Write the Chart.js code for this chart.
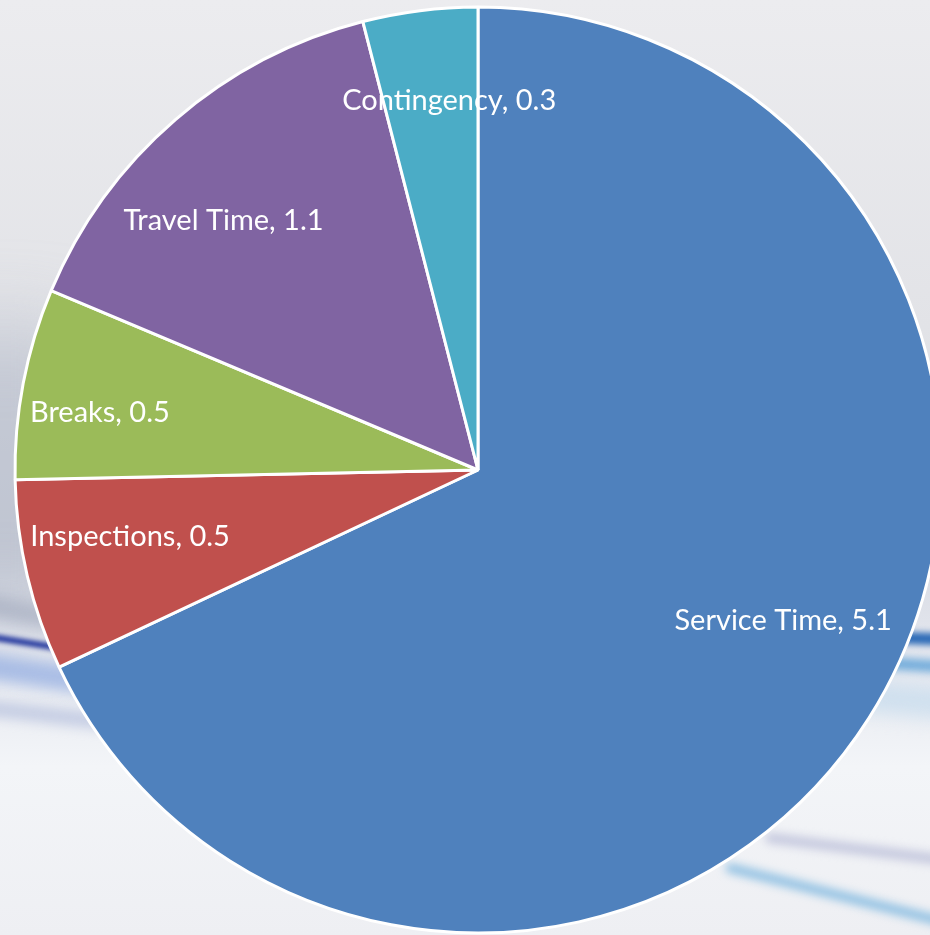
<!DOCTYPE html>
<html>
<head>
<meta charset="utf-8">
<script src="https://cdn.jsdelivr.net/npm/chart.js@4"></script>
<style>
    html, body { margin: 0; padding: 0; background: #ebebee; }
    #wrap { position: relative; width: 930px; height: 935px; }
</style>
</head>
<body>
<div id="wrap"><canvas id="timeBreakdownChart"></canvas></div>
<script>
const categories = ["Service Time", "Inspections", "Breaks", "Travel Time", "Contingency"];
const hours = [5.1, 0.5, 0.5, 1.1, 0.3];
const sliceColors = ["#4f81bd", "#c0504d", "#9bbb59", "#8064a2", "#4bacc6"];

// where each data label sits inside its slice: share of the slice's sweep, share of the radius
const labelSweep = [0.475, 0.6, 0.41, 0.41, 0.69];
const labelDepth = [0.735, 0.765, 0.826, 0.77, 0.8];

function streak(ctx, x1, y1, x2, y2, width, color, blur) {
    ctx.save();
    ctx.filter = "blur(" + blur + "px)";
    ctx.strokeStyle = color;
    ctx.lineWidth = width;
    ctx.lineCap = "round";
    ctx.beginPath();
    ctx.moveTo(x1, y1);
    ctx.lineTo(x2, y2);
    ctx.stroke();
    ctx.restore();
}

const backdrop = {
    id: "backdrop",
    beforeDraw: function (chart) {
        const ctx = chart.ctx;
        const w = chart.width;
        const h = chart.height;
        ctx.save();
        const g = ctx.createLinearGradient(0, 0, 0, h);
        g.addColorStop(0, "#ececef");
        g.addColorStop(0.35, "#e2e3e7");
        g.addColorStop(0.58, "#d6d9e0");
        g.addColorStop(0.68, "#e2e5ed");
        g.addColorStop(0.82, "#f3f5f8");
        g.addColorStop(1, "#eeeff3");
        ctx.fillStyle = g;
        ctx.fillRect(0, 0, w, h);

        // greyish shade down the left edge
        ctx.save();
        ctx.filter = "blur(40px)";
        ctx.fillStyle = "rgba(170,176,195,0.55)";
        ctx.fillRect(-60, 330, 130, 280);
        ctx.restore();

        // left swoosh
        streak(ctx, -40, 600, 160, 640, 22, "rgba(150,158,180,0.55)", 8);
        streak(ctx, -40, 632, 160, 664, 6, "#1a2f9a", 2.5);
        streak(ctx, -40, 662, 160, 692, 26, "rgba(150,175,225,0.75)", 7);
        streak(ctx, -40, 705, 160, 728, 16, "rgba(165,178,215,0.55)", 6);
        // right swoosh
        streak(ctx, 850, 636, 960, 640, 12, "#2d6bb7", 3);
        streak(ctx, 850, 661, 960, 668, 12, "rgba(90,160,215,0.85)", 4);
        streak(ctx, 850, 695, 960, 705, 30, "rgba(195,218,236,0.7)", 9);
        // bottom right
        streak(ctx, 770, 838, 960, 862, 10, "rgba(165,170,205,0.6)", 5);
        streak(ctx, 730, 868, 960, 926, 9, "rgba(110,175,220,0.8)", 5);
        ctx.restore();
    }
};

const sliceLabels = {
    id: "sliceLabels",
    afterDatasetsDraw: function (chart) {
        const ctx = chart.ctx;
        const meta = chart.getDatasetMeta(0);
        ctx.save();
        ctx.font = "29px Lato, 'Open Sans', sans-serif";
        ctx.fillStyle = "#ffffff";
        ctx.textAlign = "center";
        ctx.textBaseline = "middle";
        meta.data.forEach(function (arc, i) {
            const p = arc.getProps(["x", "y", "startAngle", "endAngle", "outerRadius"], true);
            const a = p.startAngle + labelSweep[i] * (p.endAngle - p.startAngle);
            const r = labelDepth[i] * p.outerRadius;
            const text = categories[i] + ", " + hours[i];
            ctx.fillText(text, p.x + r * Math.cos(a), p.y + r * Math.sin(a));
        });
        ctx.restore();
    }
};

new Chart(document.getElementById("timeBreakdownChart"), {
    type: "pie",
    data: {
        labels: categories,
        datasets: [
            {
                data: hours,
                backgroundColor: sliceColors,
                borderColor: "#ffffff",
                borderWidth: 3,
                radius: 463,
                clip: false,
            },
        ],
    },
    options: {
        responsive: true,
        maintainAspectRatio: false,
        animation: false,
        layout: {
            padding: { left: 26, top: 5 },
        },
        plugins: {
            legend: { display: false },
            tooltip: { enabled: false },
        },
    },
    plugins: [backdrop, sliceLabels],
});
</script>
</body>
</html>
